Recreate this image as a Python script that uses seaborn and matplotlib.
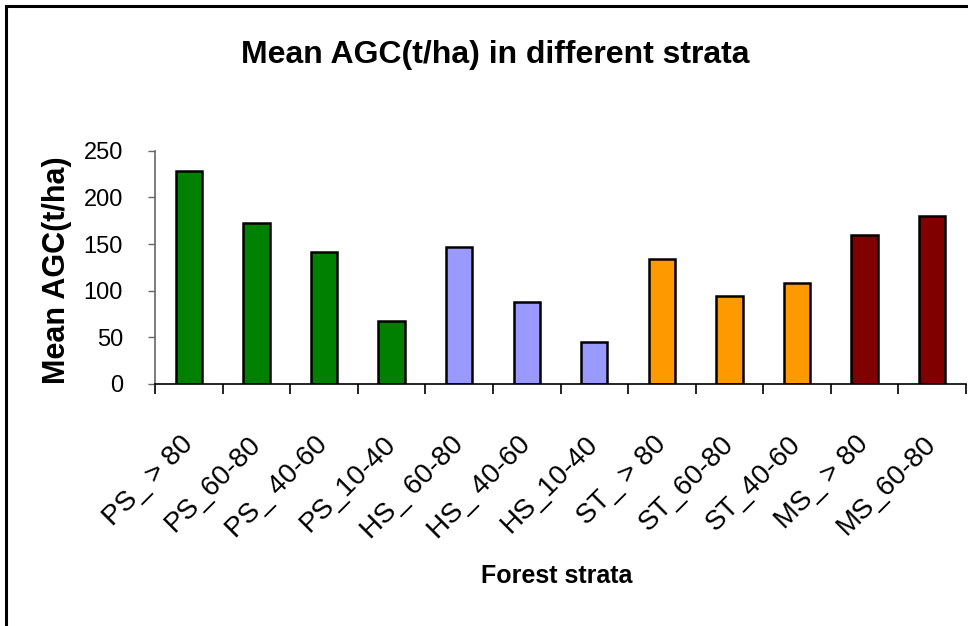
import matplotlib
matplotlib.use("Agg")
import matplotlib.pyplot as plt
import matplotlib.transforms as mtransforms
from matplotlib.patches import Rectangle
from matplotlib.ticker import FixedLocator
import seaborn as sns
import pandas as pd

categories = ["PS_ > 80", "PS_60-80", "PS_ 40-60", "PS_10-40",
              "HS_ 60-80", "HS_ 40-60", "HS_10-40",
              "ST_ > 80", "ST_60-80", "ST_40-60",
              "MS_ > 80", "MS_60-80"]
values = [228, 172, 141, 68, 147, 88, 45, 134, 94, 108, 160, 180]
bar_colors = ["#008000", "#008000", "#008000", "#008000",
              "#9999FF", "#9999FF", "#9999FF",
              "#FF9900", "#FF9900", "#FF9900",
              "#800000", "#800000"]
yticks = [0, 50, 100, 150, 200, 250]

sns.set_theme(style="white")
plt.rcParams['font.family'] = ['Liberation Sans', 'DejaVu Sans']
plt.rcParams['text.color'] = 'black'
plt.rcParams['axes.labelcolor'] = 'black'
plt.rcParams['xtick.color'] = 'black'
plt.rcParams['ytick.color'] = 'black'

W, H = 968, 626
fig = plt.figure(figsize=(W / 100, H / 100), dpi=100)
fig.patch.set_facecolor("white")
ax = fig.add_axes([155 / W, 1 - 384 / H, (966 - 155) / W, (384 - 150.7) / H])

df = pd.DataFrame({"stratum": categories, "agc": values})
sns.barplot(data=df, x="stratum", y="agc", hue="stratum",
            palette=dict(zip(categories, bar_colors)), legend=False,
            width=0.39, edgecolor="black", linewidth=1.8, saturation=1,
            ax=ax)

ax.set_xlim(-0.5, len(categories) - 0.5)
ax.set_ylim(0, 250)
ax.set_yticks(yticks)
ax.set_yticklabels([str(v) for v in yticks], fontsize=17, color="black")

# category boundary ticks
ax.xaxis.set_minor_locator(FixedLocator([i - 0.5 for i in range(len(categories) + 1)]))
ax.tick_params(axis="x", which="minor", length=7, width=1.2, color="black", bottom=True, direction="out")
ax.tick_params(axis="x", which="major", length=0, pad=34)
ax.tick_params(axis="y", which="major", length=5, width=1, color="#666666", left=True, direction="out", pad=18)

ax.set_xticks(range(len(categories)))
ax.set_xticklabels(categories, fontsize=20, rotation=45, ha="right", va="top",
                   rotation_mode="anchor", color="black")
offset = mtransforms.ScaledTranslation(-9 / 100, 0, fig.dpi_scale_trans)
for lbl in ax.get_xticklabels():
    lbl.set_transform(lbl.get_transform() + offset)

for s in ["top", "right"]:
    ax.spines[s].set_visible(False)
ax.spines["left"].set_color("#666666")
ax.spines["left"].set_linewidth(1.2)
ax.spines["bottom"].set_color("black")
ax.spines["bottom"].set_linewidth(1.2)

ax.set_ylabel("Mean AGC(t/ha)", fontsize=22, fontweight="bold", color="black")
ax.yaxis.set_label_coords((72 - 155) / 811, (384 - 270) / 233.3)
ax.set_xlabel("Forest strata", fontsize=18, fontweight="bold", va="top", color="black")
ax.xaxis.set_label_coords((557 - 155) / 811, (384 - 564) / 233.3)

fig.text(495 / W, 1 - 55 / H, "Mean AGC(t/ha) in different strata",
         fontsize=23, fontweight="bold", ha="center", va="center", color="black")

# outer chart border (top and left visible)
fig.patches.append(Rectangle((5.5 / W, -0.2), 1.5, 1.2 - 5.5 / H,
                             transform=fig.transFigure, fill=False,
                             edgecolor="black", linewidth=2.2, zorder=10))

fig.savefig("out.png", dpi=100, facecolor="white")
